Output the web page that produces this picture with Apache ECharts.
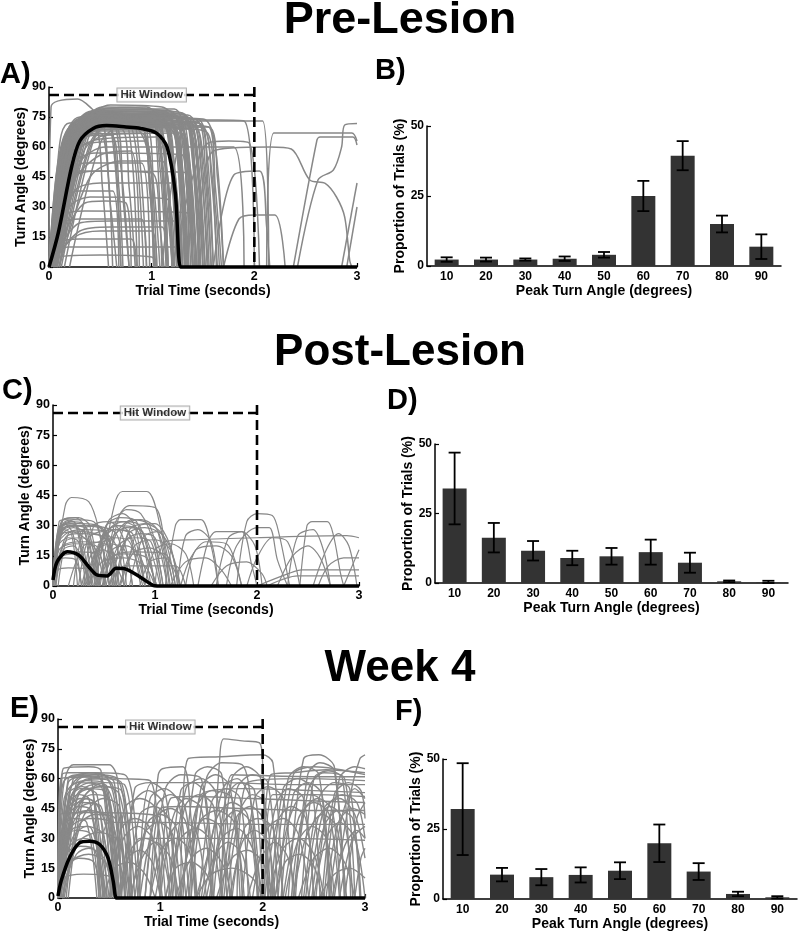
<!DOCTYPE html>
<html><head><meta charset="utf-8">
<script src="https://cdn.jsdelivr.net/npm/echarts@6/dist/echarts.min.js"></script>
<style>html,body{margin:0;padding:0;background:#fff}#c{width:800px;height:934px}</style>
</head><body><div id="c"></div>
<script>
// ---------------- DATA ----------------
const timeTicks = [0, 1, 2, 3];
const angleTicks = [0, 15, 30, 45, 60, 75, 90];
const peakAngles = ['10', '20', '30', '40', '50', '60', '70', '80', '90'];
const propTicks = [0, 25, 50];
const hitLevel = 86;      // degrees
const hitEnd = 2;         // seconds
const hitLabelTime = 1;   // seconds
const hitLabel = 'Hit Window';
const panelTitles = ['Pre-Lesion', 'Post-Lesion', 'Week 4'];
const panelLetters = ['A)', 'B)', 'C)', 'D)', 'E)', 'F)'];

// mean traces: flat lists t, angle, t, angle ...
const meanA = [0,0, 0.09,17, 0.22,50, 0.3,63, 0.43,69.3, 0.56,70.7, 0.75,70, 0.89,69.3, 1.05,66.8, 1.15,60, 1.23,37, 1.28,0, 1.32,0, 3,0];
const meanC = [0,3, 0.04,12, 0.14,17, 0.25,15.4, 0.35,9.6, 0.43,5.5, 0.53,5, 0.62,8.8, 0.72,8.3, 0.85,4.6, 0.98,0.3, 1.02,0, 3,0];
const meanE = [0,1, 0.03,8.4, 0.11,20, 0.21,27.7, 0.31,28.5, 0.41,26.8, 0.49,20, 0.54,8.4, 0.57,0, 0.6,0, 3,0];

// individual trials: flat lists t, angle, ...
const tracesA = [
 [0,0, 0.15,60, 0.3,74, 0.9,76, 1.05,72, 1.15,0],
 [0,0, 0.2,62, 0.35,72, 1.0,73, 1.1,65, 1.22,0],
 [0.02,0, 0.25,65, 0.45,77, 1.1,75, 1.2,60, 1.3,0],
 [0,0, 0.1,45, 0.25,70, 0.8,71, 0.95,60, 1.02,0],
 [0.05,0, 0.3,68, 0.5,78, 1.2,76, 1.3,50, 1.36,0],
 [0,0, 0.18,58, 0.4,70, 1.15,70, 1.28,40, 1.33,0],
 [0.03,0, 0.28,60, 0.5,74, 1.25,73, 1.35,55, 1.42,0],
 [0,0, 0.12,55, 0.3,68, 0.7,69, 0.78,40, 0.84,0],
 [0.08,0, 0.35,66, 0.55,79, 1.3,77, 1.42,50, 1.48,0],
 [0,0, 0.22,66, 0.4,75, 1.05,77, 1.18,62, 1.26,0],
 [0.04,0, 0.3,62, 0.48,72, 1.35,71, 1.45,45, 1.52,0],
 [0,0, 0.16,60, 0.33,73, 0.6,74, 0.7,50, 0.78,0],
 [0.1,0, 0.38,64, 0.6,76, 1.38,74, 1.5,48, 1.56,0],
 [0,0, 0.2,64, 0.42,78, 0.95,80, 1.1,70, 1.2,0],
 [0.02,0, 0.26,58, 0.46,68, 1.2,68, 1.3,35, 1.36,0],
 [0,0, 0.14,50, 0.3,66, 0.5,67, 0.6,30, 0.66,0],
 [0.06,0, 0.32,70, 0.52,80, 1.1,78, 1.25,66, 1.33,0],
 [0,0, 0.24,68, 0.44,75, 1.3,75, 1.4,58, 1.47,0],
 [0.12,0, 0.4,60, 0.62,72, 1.45,72, 1.55,40, 1.6,0],
 [0,0, 0.1,52, 0.22,70, 0.85,73, 0.98,55, 1.05,0],
 [0.03,0, 0.3,66, 0.5,76, 1.0,75, 1.05,60, 1.1,0],
 [0,0, 0.2,56, 0.38,69, 1.25,71, 1.37,52, 1.44,0],
 [0.05,0, 0.28,64, 0.45,74, 0.9,74, 0.98,45, 1.03,0],
 [0,0, 0.16,64, 0.36,76, 1.18,78, 1.3,62, 1.38,0],
 [0.07,0, 0.33,62, 0.55,70, 1.52,68, 1.62,30, 1.66,0],
 [0,0, 0.18,62, 0.38,72, 0.75,73, 0.85,58, 0.92,0],
 [0.02,0, 0.24,60, 0.42,71, 1.4,71, 1.5,55, 1.58,0],
 [0,0, 0.08,50, 0.2,72, 1.08,72, 1.2,45, 1.26,0],
 [0.15,0, 0.45,66, 0.65,75, 1.3,74, 1.42,60, 1.5,0],
 [0,0, 0.22,60, 0.4,68, 1.0,69, 1.1,52, 1.16,0],
 [0.04,0, 0.26,68, 0.5,79, 1.22,79, 1.32,65, 1.4,0],
 [0,0, 0.12,58, 0.28,74, 0.55,75, 0.64,60, 0.7,0],
 [0.08,0, 0.34,58, 0.56,66, 1.28,67, 1.38,40, 1.44,0],
 [0,0, 0.2,66, 0.4,77, 1.02,76, 1.15,68, 1.24,0],
 [0.03,0, 0.3,64, 0.46,72, 1.12,73, 1.22,50, 1.28,0],
 [0,0, 0.25,62, 0.44,74, 1.46,72, 1.58,50, 1.63,0],
 [0.1,0, 0.36,68, 0.58,77, 1.15,76, 1.28,58, 1.34,0],
 [0,0, 0.15,62, 0.32,71, 0.92,72, 1.02,40, 1.08,0],
 [0.02,0, 0.2,67, 0.38,76, 1.35,76, 1.46,60, 1.54,0],
 [0,0, 0.28,58, 0.5,64, 1.05,65, 1.15,30, 1.2,0],
 [0,0, 0.18,66, 0.34,74, 1.08,74, 1.2,58, 1.28,0],
 [0.01,0, 0.22,64, 0.4,73, 1.32,72, 1.42,50, 1.5,0],
 [0,0, 0.1,56, 0.24,71, 0.98,72, 1.1,52, 1.16,0],
 [0.06,0, 0.3,65, 0.5,75, 1.26,75, 1.36,58, 1.43,0],
 [0,0, 0.14,60, 0.3,72, 1.16,74, 1.26,56, 1.32,0],
 [0.02,0, 0.26,66, 0.45,77, 1.42,74, 1.52,52, 1.58,0],
 [0,0, 0.2,58, 0.36,70, 0.65,70, 0.72,35, 0.78,0],
 [0.04,0, 0.28,62, 0.48,73, 1.18,72, 1.28,48, 1.34,0],
 [0,0, 0.16,62, 0.34,75, 1.22,76, 1.34,60, 1.4,0],
 [0.03,0, 0.24,64, 0.42,74, 0.98,74, 1.08,50, 1.14,0],
 [0,0, 0.12,52, 0.26,68, 0.45,69, 0.52,40, 0.58,0],
 [0.05,0, 0.32,66, 0.52,76, 1.34,75, 1.44,55, 1.5,0],
 [0,0, 0.22,68, 0.42,78, 1.12,78, 1.24,64, 1.32,0],
 [0.02,0, 0.28,60, 0.48,70, 1.48,70, 1.58,45, 1.64,0],
 [0,0, 0.18,64, 0.36,73, 0.86,74, 0.96,56, 1.02,0],
 [0.08,0, 0.36,64, 0.56,74, 1.38,72, 1.48,50, 1.55,0],
 [0,0, 0.15,58, 0.32,70, 1.05,70, 1.15,48, 1.21,0],
 [0.01,0, 0.2,62, 0.4,76, 1.28,77, 1.38,62, 1.46,0],
 [0,0, 0.26,64, 0.46,72, 1.2,71, 1.3,45, 1.35,0],
 [0.04,0, 0.22,66, 0.4,75, 0.78,76, 0.88,55, 0.95,0],
 [0,0, 0.12,60, 0.28,73, 1.3,73, 1.4,54, 1.46,0],
 [0.06,0, 0.3,60, 0.5,71, 1.1,71, 1.2,42, 1.25,0],
 [0,0, 0.2,60, 0.38,74, 1.44,74, 1.54,56, 1.6,0],
 [0.03,0, 0.25,68, 0.44,78, 1.02,77, 1.12,62, 1.2,0],
 [0,0, 0.17,56, 0.35,66, 0.9,67, 0.98,38, 1.04,0],
 [0.02,0, 0.3,64, 0.5,72, 1.24,70, 1.34,46, 1.4,0],
 [0,0, 0.14,62, 0.3,75, 1.14,75, 1.24,60, 1.3,0],
 [0.05,0, 0.26,58, 0.46,69, 1.36,69, 1.46,44, 1.52,0],
 [0,0, 0.22,66, 0.4,76, 0.7,77, 0.8,60, 0.86,0],
 [0.07,0, 0.34,68, 0.54,78, 1.32,76, 1.44,60, 1.52,0],
 [0,0, 0.1,50, 0.25,64, 0.6,66, 0.68,40, 0.72,0],
 [0.02,0, 0.18,60, 0.36,71, 1.0,72, 1.1,56, 1.16,0],
 [0,0, 0.2,62, 0.42,72, 1.56,70, 1.64,45, 1.7,0],
 [0.1,0, 0.4,62, 0.6,71, 1.24,70, 1.34,40, 1.4,0],
 [0,0, 0.28,66, 0.48,76, 1.2,76, 1.32,64, 1.4,0],
 [0.03,0, 0.16,62, 0.3,72, 0.5,73, 0.58,45, 0.62,0],
 [0,0, 0.02,80, 0.28,84, 0.42,79, 0.6,70, 0.7,0],
 [0.05,0, 0.35,72, 0.6,81, 1.1,80, 1.3,74, 1.9,73, 2.0,0],
 [0,0, 0.3,66, 0.5,75, 1.5,74, 1.62,60, 1.7,0],
 [0.2,0, 0.5,62, 0.7,70, 1.55,70, 1.62,40, 1.68,0],
 [0,0, 0.12,40, 0.3,48, 1.0,47, 1.08,20, 1.12,0],
 [0,0, 0.2,30, 0.4,35, 1.15,34, 1.22,0],
 [0.02,0, 0.15,22, 0.3,24, 0.9,24, 0.95,0],
 [0,0, 0.1,12, 0.3,14, 0.8,14, 0.85,0],
 [0,0, 0.2,50, 0.45,57, 1.3,56, 1.36,0],
 [0,0, 0.25,38, 0.5,42, 1.2,42, 1.28,0],
 [0.05,0, 0.3,52, 0.55,60, 1.4,60, 1.8,60, 1.9,0],
 [0,0, 0.15,26, 0.35,28, 1.35,27, 1.4,0],
 [0,0, 0.3,18, 0.6,20, 1.1,20, 1.15,0],
 [0.1,0, 0.4,45, 0.7,53, 1.1,53, 1.2,0],
 [0,0, 0.05,8, 0.2,10, 1.25,10, 1.3,0],
 [0,0, 0.35,32, 0.55,33, 0.75,32, 0.8,0],
 [0,0, 0.15,44, 0.35,52, 0.9,52, 0.98,0],
 [0,0, 0.25,15, 0.5,18, 1.0,18, 1.05,0],
 [0,0, 0.1,35, 0.3,38, 0.62,38, 0.68,0],
 [0.02,0, 0.2,55, 0.4,62, 0.95,63, 1.02,0],
 [0,0, 0.3,22, 0.6,23, 1.25,23, 1.3,0],
 [0.05,0, 0.25,45, 0.5,48, 1.35,47, 1.4,0],
 [0,0, 0.08,5, 0.5,6, 1.0,5, 1.05,0],
 [0,0, 0.2,40, 0.5,56, 0.8,58, 0.88,0],
 [1.2,0, 1.4,45, 1.55,62, 1.75,63, 1.95,62, 2.05,0],
 [1.1,0, 1.3,70, 1.5,73, 2.08,73, 2.14,0],
 [1.7,0, 1.85,24, 2.0,26, 2.2,26, 2.3,0],
 [2.12,0, 2.19,67, 2.95,67, 3.0,63],
 [1.45,0, 1.6,58, 2.15,60, 2.36,59, 2.54,43.5, 2.69,41.8, 2.8,35, 2.88,25, 2.93,3, 2.95,0],
 [2.38,0, 2.61,63.5, 2.64,65, 2.96,65, 3.0,61],
 [2.42,0, 2.62,43.5, 2.77,48.5, 2.85,60, 2.88,71, 3.0,71.7],
 [2.85,0, 3.0,42],
 [2.9,0, 3.0,30],
 [1.6,0, 1.8,46, 2.05,48, 2.12,20, 2.15,0]
];

const tracesC = [
 [0,0, 0.06,28, 0.15,32, 0.3,31, 0.4,10, 0.45,0],
 [0,0, 0.08,25, 0.2,29, 0.32,26, 0.42,0],
 [0,0, 0.05,20, 0.15,24, 0.25,22, 0.35,0],
 [0,0, 0.1,31, 0.2,33, 0.4,32, 0.5,15, 0.56,0],
 [0,0, 0.12,40, 0.18,44, 0.35,42, 0.45,28, 0.55,0],
 [0.02,0, 0.1,18, 0.2,20, 0.3,12, 0.36,0],
 [0,0, 0.07,30, 0.25,31, 0.48,29, 0.6,0],
 [0,0, 0.04,12, 0.12,14, 0.22,13, 0.28,0],
 [0,0, 0.09,26, 0.3,27, 0.55,22, 0.65,0],
 [0,0, 0.06,22, 0.18,27, 0.38,20, 0.46,0],
 [0,0, 0.08,32, 0.22,34, 0.3,30, 0.38,0],
 [0.03,0, 0.1,16, 0.25,17, 0.45,16, 0.5,0],
 [0,0, 0.05,8, 0.15,9, 0.4,8, 0.45,0],
 [0,0, 0.1,28, 0.35,30, 0.62,26, 0.72,0],
 [0,0, 0.07,24, 0.14,30, 0.2,25, 0.28,0],
 [0,0, 0.12,22, 0.28,24, 0.42,18, 0.5,0],
 [0,0, 0.1,30, 0.2,32, 0.28,20, 0.34,0],
 [0.05,0, 0.15,26, 0.3,28, 0.52,27, 0.6,0],
 [0,0, 0.05,26, 0.16,30, 0.34,28, 0.44,0],
 [0,0, 0.08,29, 0.18,31, 0.26,28, 0.36,0],
 [0.01,0, 0.06,18, 0.2,21, 0.42,20, 0.52,0],
 [0,0, 0.1,33, 0.25,34, 0.36,30, 0.46,0],
 [0,0, 0.07,14, 0.2,16, 0.3,10, 0.36,0],
 [0,0, 0.09,28, 0.22,30, 0.5,28, 0.62,0],
 [0,0, 0.06,32, 0.12,33, 0.22,31, 0.32,0],
 [0.02,0, 0.12,24, 0.26,26, 0.5,24, 0.58,0],
 [0,0, 0.1,20, 0.3,22, 0.55,20, 0.64,0],
 [0,0, 0.04,22, 0.1,28, 0.18,26, 0.24,0],
 [0.35,0, 0.5,25, 0.62,30, 0.8,29, 0.95,10, 1.02,0],
 [0.4,0, 0.55,28, 0.7,32, 0.85,30, 1.0,0],
 [0.3,0, 0.45,20, 0.6,24, 0.75,22, 0.88,0],
 [0.45,0, 0.6,40, 0.68,47, 0.92,47, 1.05,30, 1.15,0],
 [0.5,0, 0.65,35, 0.75,40, 1.0,39, 1.1,20, 1.18,0],
 [0.38,0, 0.52,30, 0.68,32, 0.9,25, 1.05,0],
 [0.55,0, 0.7,22, 0.85,26, 1.0,24, 1.12,0],
 [0.42,0, 0.58,18, 0.72,20, 0.85,15, 0.95,0],
 [0.6,0, 0.75,28, 0.9,31, 1.08,25, 1.2,0],
 [0.35,0, 0.48,12, 0.7,14, 0.9,10, 1.0,0],
 [0.5,0, 0.62,26, 0.78,33, 0.95,30, 1.08,0],
 [0.65,0, 0.8,20, 1.0,23, 1.15,18, 1.25,0],
 [0.3,0, 0.4,30, 0.55,32, 0.68,25, 0.78,0],
 [0.48,0, 0.6,15, 0.8,17, 1.1,16, 1.2,0],
 [0.7,0, 0.85,30, 1.0,31, 1.15,20, 1.22,0],
 [0.55,0, 0.7,10, 1.2,10, 1.3,0],
 [0.25,0, 0.35,24, 0.48,27, 0.62,20, 0.7,0],
 [0.15,0, 0.3,20, 0.45,22, 0.6,28, 0.75,26, 0.9,0],
 [0.32,0, 0.46,22, 0.6,28, 0.78,26, 0.9,0],
 [0.4,0, 0.52,30, 0.66,34, 0.82,32, 0.96,0],
 [0.46,0, 0.58,24, 0.72,29, 0.88,27, 1.0,0],
 [0.52,0, 0.64,20, 0.8,24, 0.96,22, 1.06,0],
 [0.36,0, 0.5,26, 0.64,30, 0.74,27, 0.86,0],
 [0.58,0, 0.7,30, 0.86,33, 1.02,28, 1.12,0],
 [0.44,0, 0.56,14, 0.7,16, 0.92,14, 1.0,0],
 [0.62,0, 0.74,26, 0.9,29, 1.04,26, 1.14,0],
 [0.34,0, 0.44,18, 0.56,21, 0.7,18, 0.78,0],
 [0.5,0, 0.6,30, 0.72,38, 0.86,36, 1.0,20, 1.08,0],
 [0.66,0, 0.78,16, 0.94,19, 1.1,14, 1.18,0],
 [0.42,0, 0.54,32, 0.68,36, 0.8,30, 0.9,0],
 [0.2,0, 0.3,28, 0.42,30, 0.55,22, 0.62,0],
 [0.28,0, 0.38,16, 0.5,18, 0.62,10, 0.7,0],
 [0.75,0, 0.88,24, 1.02,27, 1.14,20, 1.24,0],
 [1.1,0, 1.2,30, 1.25,33, 1.45,33, 1.55,20, 1.62,0],
 [1.42,0, 1.52,22, 1.6,27, 1.85,27, 1.95,10, 2.0,0],
 [1.8,0, 1.9,32, 2.0,36, 2.15,35, 2.22,25, 2.32,0],
 [1.0,0, 1.1,22, 1.4,23, 2.0,24, 2.88,25, 3.0,24],
 [1.3,0, 1.4,18, 1.6,20, 1.75,15, 1.85,0],
 [1.7,0, 1.8,20, 2.0,29, 2.12,29, 2.2,13, 2.3,0],
 [2.42,0, 2.49,30, 2.54,32, 2.69,32, 2.75,25, 2.82,6, 2.85,0],
 [2.0,0, 2.3,6, 2.44,8, 3.0,8],
 [2.1,0, 2.4,5, 3.0,5],
 [2.55,0, 2.68,18, 2.8,26, 2.9,20, 2.98,0],
 [2.85,0, 2.95,12, 3.0,18],
 [1.15,0, 1.3,12, 1.5,14, 1.65,8, 1.75,0],
 [0.9,0, 1.0,18, 1.15,21, 1.3,16, 1.38,0],
 [2.2,0, 2.35,15, 2.5,20, 2.62,14, 2.72,0],
 [1.55,0, 1.7,10, 1.9,12, 2.05,6, 2.1,0],
 [1.25,0, 1.35,14, 1.5,22, 1.7,21, 1.85,0],
 [0.85,0, 0.95,12, 1.1,14, 1.25,0],
 [1.22,0, 1.3,25, 1.42,28, 1.55,22, 1.62,0],
 [1.6,0, 1.72,24, 1.85,27, 1.98,20, 2.05,0],
 [1.9,0, 2.0,14, 2.15,24, 2.3,22, 2.42,0],
 [2.6,0, 2.7,10, 2.85,14, 3.0,14],
 [2.3,0, 2.4,25, 2.55,28, 2.65,18, 2.72,0]
];

const tracesE = [
 [0,0, 0.02,45, 0.08,60, 0.4,62, 0.55,58, 0.62,0],
 [0,0, 0.05,55, 0.15,67, 0.5,67, 0.58,60, 0.65,0],
 [0,0, 0.1,40, 0.25,55, 0.45,54, 0.55,20, 0.6,0],
 [0,0, 0.08,30, 0.2,45, 0.35,48, 0.5,30, 0.58,0],
 [0,0, 0.12,50, 0.3,60, 0.5,59, 0.6,40, 0.68,0],
 [0,0, 0.05,20, 0.15,35, 0.3,36, 0.42,15, 0.48,0],
 [0.02,0, 0.12,55, 0.3,63, 0.45,62, 0.55,50, 0.62,0],
 [0,0, 0.15,42, 0.28,50, 0.4,45, 0.52,0],
 [0,0, 0.1,25, 0.25,30, 0.4,26, 0.5,0],
 [0.05,0, 0.18,58, 0.35,62, 0.58,60, 0.68,30, 0.72,0],
 [0,0, 0.04,62, 0.1,63, 0.35,63, 0.45,55, 0.55,0],
 [0,0, 0.2,52, 0.35,57, 0.6,52, 0.72,0],
 [0,0, 0.08,15, 0.2,20, 0.35,18, 0.42,0],
 [0.03,0, 0.15,38, 0.3,44, 0.5,40, 0.6,0],
 [0,0, 0.1,58, 0.25,61, 0.42,60, 0.5,35, 0.56,0],
 [0,0, 0.06,10, 0.25,12, 0.55,10, 0.6,0],
 [0.08,0, 0.22,48, 0.4,56, 0.62,54, 0.75,0],
 [0,0, 0.12,35, 0.3,40, 0.52,38, 0.6,20, 0.66,0],
 [0,0, 0.15,60, 0.35,63, 0.65,62, 0.75,40, 0.8,0],
 [0,0, 0.08,45, 0.2,52, 0.3,50, 0.4,20, 0.45,0],
 [0.04,0, 0.2,28, 0.4,33, 0.6,28, 0.7,0],
 [0,0, 0.02,42, 0.3,43, 0.9,42, 1.0,40, 1.1,0],
 [0,0, 0.03,60, 0.4,61, 0.6,60, 0.9,59, 1.0,0],
 [0,0, 0.1,20, 0.2,52, 0.45,56, 0.55,45, 0.62,0],
 [0.1,0, 0.25,50, 0.45,58, 0.65,57, 0.78,0],
 [0,0, 0.05,65, 0.3,66, 0.42,64, 0.52,0],
 [0,0, 0.18,22, 0.3,25, 0.45,20, 0.55,0],
 [0.02,0, 0.1,48, 0.22,55, 0.38,52, 0.48,0],
 [0,0, 0.06,38, 0.2,46, 0.32,44, 0.46,0],
 [0,0, 0.14,30, 0.28,36, 0.44,32, 0.52,0],
 [0,0, 0.06,50, 0.18,58, 0.4,57, 0.5,40, 0.56,0],
 [0,0, 0.1,45, 0.22,50, 0.36,48, 0.46,0],
 [0,0, 0.04,35, 0.15,40, 0.28,38, 0.38,0],
 [0.02,0, 0.14,52, 0.32,58, 0.48,56, 0.58,0],
 [0,0, 0.08,22, 0.22,26, 0.36,24, 0.44,0],
 [0,0, 0.12,55, 0.26,59, 0.44,58, 0.54,30, 0.6,0],
 [0,0, 0.05,30, 0.18,34, 0.32,32, 0.4,0],
 [0.03,0, 0.16,45, 0.34,52, 0.5,50, 0.6,0],
 [0,0, 0.1,60, 0.2,62, 0.32,61, 0.4,0],
 [0,0, 0.07,40, 0.2,48, 0.42,46, 0.52,0],
 [0.05,0, 0.2,36, 0.36,42, 0.56,40, 0.66,0],
 [0,0, 0.12,18, 0.3,22, 0.46,18, 0.54,0],
 [0,0, 0.09,52, 0.24,56, 0.34,53, 0.44,0],
 [0.02,0, 0.18,56, 0.4,60, 0.62,58, 0.72,0],
 [0,0, 0.06,28, 0.16,42, 0.3,44, 0.42,0],
 [0.06,0, 0.24,40, 0.44,50, 0.6,46, 0.7,0],
 [0.5,0, 0.62,35, 0.75,40, 0.9,35, 1.0,0],
 [0.6,0, 0.72,25, 0.85,30, 1.0,25, 1.1,0],
 [0.55,0, 0.65,45, 0.8,50, 0.95,45, 1.05,0],
 [0.7,0, 0.82,20, 0.95,28, 1.1,20, 1.18,0],
 [0.45,0, 0.55,15, 0.7,18, 0.85,12, 0.95,0],
 [0.8,0, 0.95,40, 1.1,45, 1.25,38, 1.35,0],
 [0.65,0, 0.75,55, 0.9,58, 1.05,52, 1.15,0],
 [0.85,0, 0.98,62, 1.02,65, 1.22,66, 1.3,40, 1.36,0],
 [0.52,0, 0.64,30, 0.78,36, 0.92,30, 1.02,0],
 [0.62,0, 0.74,48, 0.88,54, 1.02,48, 1.12,0],
 [0.72,0, 0.84,32, 0.98,38, 1.12,32, 1.2,0],
 [0.58,0, 0.68,20, 0.8,24, 0.92,18, 1.0,0],
 [0.78,0, 0.9,50, 1.04,55, 1.18,48, 1.28,0],
 [0.68,0, 0.8,42, 0.94,46, 1.08,40, 1.16,0],
 [0.9,0, 1.02,25, 1.15,30, 1.28,24, 1.36,0],
 [0.85,0, 0.96,46, 1.1,52, 1.24,46, 1.34,0],
 [1.0,0, 1.12,40, 1.25,50, 1.4,45, 1.5,0],
 [1.1,0, 1.25,55, 1.4,60, 1.55,52, 1.65,0],
 [1.2,0, 1.35,45, 1.5,54, 1.7,50, 1.8,0],
 [1.05,0, 1.2,30, 1.35,35, 1.5,28, 1.6,0],
 [1.3,0, 1.45,60, 1.6,68, 1.8,67, 1.9,40, 1.95,0],
 [1.5,0, 1.58,70, 1.62,80, 1.8,79, 1.97,78, 2.0,67, 2.05,0],
 [1.4,0, 1.55,40, 1.7,48, 1.85,42, 1.95,0],
 [1.6,0, 1.75,55, 1.9,62, 2.05,58, 2.15,0],
 [1.15,0, 1.3,20, 1.45,25, 1.6,18, 1.7,0],
 [1.7,0, 1.82,35, 1.95,40, 2.1,35, 2.2,0],
 [1.2,0, 1.27,70, 1.58,71, 2.0,72, 2.1,68, 2.2,0],
 [1.45,0, 1.6,30, 1.75,35, 1.9,25, 2.0,0],
 [1.8,0, 1.92,50, 2.05,56, 2.2,50, 2.3,0],
 [0.9,0, 1.05,55, 1.2,62, 1.4,60, 1.5,0],
 [1.35,0, 1.5,12, 1.7,15, 1.9,10, 2.0,0],
 [0.9,0, 1.0,45, 1.2,46, 1.8,45, 2.5,44, 3.0,44],
 [1.3,0, 1.4,52, 1.8,55, 2.5,54, 3.0,53],
 [1.55,0, 1.7,20, 1.85,24, 2.0,18, 2.1,0],
 [0.95,0, 1.08,30, 1.2,38, 1.35,34, 1.45,0],
 [1.0,0, 1.1,50, 1.3,51, 1.9,50, 2.4,49, 3.0,48],
 [0.8,0, 0.92,58, 1.6,58, 2.3,57, 3.0,57],
 [1.25,0, 1.38,38, 1.55,44, 1.72,38, 1.82,0],
 [1.65,0, 1.78,44, 1.9,52, 2.02,48, 2.1,0],
 [0.75,0, 0.88,38, 1.0,42, 1.15,36, 1.25,0],
 [1.35,0, 1.48,25, 1.62,56, 1.75,60, 1.88,50, 1.98,0],
 [1.05,0, 1.15,15, 1.3,18, 1.45,12, 1.52,0],
 [1.12,0, 1.24,46, 1.38,52, 1.52,46, 1.6,0],
 [1.18,0, 1.3,28, 1.44,40, 1.58,36, 1.68,0],
 [1.28,0, 1.4,56, 1.54,62, 1.68,56, 1.78,0],
 [1.38,0, 1.5,48, 1.64,55, 1.78,50, 1.86,0],
 [1.48,0, 1.6,36, 1.74,44, 1.88,38, 1.96,0],
 [1.58,0, 1.7,60, 1.84,66, 1.98,60, 2.06,0],
 [1.68,0, 1.8,28, 1.92,34, 2.05,28, 2.12,0],
 [1.22,0, 1.34,62, 1.46,66, 1.6,62, 1.7,0],
 [1.42,0, 1.52,20, 1.66,28, 1.8,22, 1.88,0],
 [1.52,0, 1.64,50, 1.78,58, 1.92,54, 2.0,0],
 [1.08,0, 1.2,54, 1.32,58, 1.44,52, 1.52,0],
 [1.62,0, 1.74,40, 1.88,46, 2.0,40, 2.08,0],
 [2.0,0, 2.12,45, 2.25,55, 2.4,50, 2.5,0],
 [2.1,0, 2.25,60, 2.4,66, 2.55,62, 2.65,0],
 [2.2,0, 2.35,40, 2.5,48, 2.65,42, 2.75,0],
 [2.3,0, 2.45,55, 2.6,63, 2.8,60, 2.9,0],
 [2.4,0, 2.55,50, 2.7,58, 2.85,55, 2.95,0],
 [2.5,0, 2.62,30, 2.75,38, 2.9,30, 3.0,0],
 [2.6,0, 2.75,60, 2.9,66, 3.0,65],
 [2.7,0, 2.85,50, 2.95,70, 3.0,72],
 [2.05,0, 2.2,25, 2.35,30, 2.5,22, 2.6,0],
 [2.35,0, 2.5,20, 2.65,25, 2.8,18, 2.9,0],
 [2.15,0, 2.3,62, 2.5,66, 3.0,62],
 [1.9,0, 2.05,35, 2.2,40, 2.35,32, 2.45,0],
 [2.8,0, 2.92,40, 3.0,48],
 [2.45,0, 2.6,45, 2.75,50, 2.9,42, 3.0,20],
 [1.75,0, 1.85,58, 2.4,60, 3.0,59],
 [2.55,0, 2.7,12, 2.85,15, 3.0,10],
 [2.25,0, 2.4,70, 2.55,72, 2.7,66, 2.8,0],
 [2.0,0, 2.08,62, 2.3,63, 2.62,64.5, 3.0,63],
 [2.12,0, 2.25,38, 2.4,52, 2.55,50, 2.68,0],
 [2.65,0, 2.78,42, 2.9,55, 3.0,50],
 [2.3,0, 2.42,30, 2.58,42, 2.72,36, 2.82,0],
 [1.85,0, 1.98,20, 2.12,28, 2.25,20, 2.32,0],
 [2.75,0, 2.88,30, 3.0,36],
 [2.02,0, 2.1,52, 2.5,52, 3.0,51],
 [2.02,0, 2.14,38, 2.28,46, 2.42,40, 2.5,0],
 [2.18,0, 2.3,52, 2.44,58, 2.58,52, 2.66,0],
 [2.28,0, 2.4,44, 2.54,50, 2.68,44, 2.76,0],
 [2.38,0, 2.5,60, 2.64,64, 2.78,60, 2.86,0],
 [2.48,0, 2.6,36, 2.74,44, 2.88,40, 2.96,0],
 [2.58,0, 2.7,52, 2.84,58, 2.96,54, 3.0,40],
 [2.68,0, 2.8,26, 2.92,34, 3.0,30],
 [2.08,0, 2.2,55, 2.34,60, 2.48,55, 2.56,0],
 [2.22,0, 2.34,28, 2.48,36, 2.62,30, 2.7,0],
 [2.52,0, 2.64,46, 2.78,52, 2.92,48, 3.0,30],
 [2.42,0, 2.54,40, 2.66,46, 2.8,38, 2.88,0],
 [2.12,0, 2.22,18, 2.36,22, 2.5,16, 2.58,0],
 [2.62,0, 2.74,38, 2.88,45, 3.0,42],
 [2.32,0, 2.44,62, 2.56,68, 2.7,64, 2.8,0],
 [0.4,0, 0.5,38, 1.0,38, 2.0,37, 3.0,37],
 [1.6,0, 1.7,62, 2.5,61, 3.0,61],
 [0.7,0, 0.8,30, 2.2,30, 3.0,29],
 [2.9,0, 2.96,20, 3.0,25]
];

// peak turn angle histograms (percent of trials) and error bars
const preMean  = [2.3, 2.3, 2.3, 2.6, 4.0, 25.0, 39.4, 15.0, 6.9];
const preErr   = [0.8, 0.7, 0.4, 0.8, 1.0, 5.4, 5.2, 3.0, 4.4];
const postMean = [34.0, 16.3, 11.6, 9.0, 9.6, 11.1, 7.3, 0.6, 0.2];
const postErr  = [12.9, 5.3, 3.5, 2.6, 3.0, 4.5, 3.6, 0.3, 0.6];
const wk4Mean  = [32.1, 8.7, 7.8, 8.6, 10.1, 19.9, 9.8, 1.8, 0.6];
const wk4Err   = [16.4, 2.4, 2.9, 2.7, 3.0, 6.7, 3.0, 0.8, 0.4];

// ---------------- CHART ----------------
const FONT = '"Liberation Sans", Arial, Helvetica, sans-serif';
const pairs = flat => { const out = []; for (let i = 0; i < flat.length; i += 2) out.push([flat[i], flat[i + 1]]); return out; };

const grids = [
  {left: 49, top: 87, width: 308, height: 180},   // A
  {left: 427, top: 126, width: 354, height: 140}, // B
  {left: 53, top: 405, width: 306, height: 181},  // C
  {left: 435, top: 444, width: 353, height: 139}, // D
  {left: 58, top: 719, width: 307, height: 179},  // E
  {left: 443, top: 759, width: 354, height: 140}  // F
].map(g => Object.assign({containLabel: false, outerBoundsMode: 'none'}, g));

const axisLineStyle = {show: true, lineStyle: {color: '#000', width: 1.5}};
const tickStyle = {show: true, inside: true, length: 4, lineStyle: {color: '#000', width: 1.2}};
const lblStyle = (size) => ({color: '#000', fontFamily: FONT, fontWeight: 'bold', fontSize: size});
const nameStyle = {color: '#000', fontFamily: FONT, fontWeight: 'bold', fontSize: 14};

const xAxes = [], yAxes = [];
[0, 2, 4].forEach(g => {
  xAxes[g] = {gridIndex: g, type: 'value', min: timeTicks[0], max: timeTicks[timeTicks.length - 1], interval: 1,
    axisLine: axisLineStyle, axisTick: tickStyle, splitLine: {show: false},
    axisLabel: Object.assign({margin: 3}, lblStyle(12.5)),
    name: 'Trial Time (seconds)', nameLocation: 'middle', nameGap: 10, nameTextStyle: nameStyle};
  yAxes[g] = {gridIndex: g, type: 'value', min: angleTicks[0], max: angleTicks[angleTicks.length - 1], interval: 15,
    axisLine: axisLineStyle, axisTick: tickStyle, splitLine: {show: false},
    axisLabel: Object.assign({margin: 3}, lblStyle(12.5)),
    name: 'Turn Angle (degrees)', nameLocation: 'middle', nameGap: 17, nameTextStyle: nameStyle};
});
[1, 3, 5].forEach((g, k) => {
  xAxes[g] = {gridIndex: g, type: 'category', data: peakAngles, boundaryGap: true,
    axisLine: axisLineStyle, axisTick: {show: false}, splitLine: {show: false},
    axisLabel: Object.assign({margin: 5}, lblStyle(12)),
    name: 'Peak Turn Angle (degrees)', nameLocation: 'middle', nameGap: k === 2 ? 15 : 12, nameTextStyle: nameStyle};
  yAxes[g] = {gridIndex: g, type: 'value', min: propTicks[0], max: propTicks[propTicks.length - 1], interval: 25,
    axisLine: axisLineStyle, axisTick: tickStyle, splitLine: {show: false},
    axisLabel: Object.assign({margin: 3}, lblStyle(12)),
    name: 'Proportion of Trials (%)', nameLocation: 'middle', nameGap: 17, nameTextStyle: nameStyle};
});

const series = [];
const linePanels = [[0, tracesA, meanA, 1.5], [2, tracesC, meanC, 1.2], [4, tracesE, meanE, 1.4]];
linePanels.forEach(([g, traces, mean, lw]) => {
  traces.forEach(tr => series.push({type: 'line', xAxisIndex: g, yAxisIndex: g, data: pairs(tr),
    showSymbol: false, smooth: 0.3, silent: true, z: 2,
    lineStyle: {color: '#888888', width: lw}}));
  series.push({type: 'line', xAxisIndex: g, yAxisIndex: g, data: pairs(mean), showSymbol: false,
    smooth: 0.3, silent: true, clip: false, z: 5, lineStyle: {color: '#000', width: 3.5}});
  series.push({type: 'line', xAxisIndex: g, yAxisIndex: g, data: [[timeTicks[0], hitLevel], [hitEnd, hitLevel]],
    showSymbol: false, silent: true, z: 6, lineStyle: {color: '#000', width: 2.6, type: [10, 5]}});
  series.push({type: 'line', xAxisIndex: g, yAxisIndex: g,
    data: [[hitEnd, angleTicks[angleTicks.length - 1]], [hitEnd, angleTicks[0]]],
    showSymbol: false, silent: true, z: 6, lineStyle: {color: '#000', width: 2.6, type: [10, 5]}});
  series.push({type: 'scatter', xAxisIndex: g, yAxisIndex: g, data: [[hitLabelTime, hitLevel]],
    symbol: 'rect', symbolSize: 2, itemStyle: {color: 'rgba(255,255,255,0)'}, silent: true, z: 8,
    label: {show: true, position: 'inside', formatter: hitLabel, color: '#000', fontFamily: FONT,
      fontWeight: 'bold', fontSize: 11.5, backgroundColor: '#fff', borderColor: '#9a9a9a', borderWidth: 1,
      padding: [1, 3, 0, 3]},
    labelLayout: {hideOverlap: false}});
});

const barPanels = [[1, preMean, preErr], [3, postMean, postErr], [5, wk4Mean, wk4Err]];
barPanels.forEach(([g, mean, err]) => {
  series.push({type: 'bar', xAxisIndex: g, yAxisIndex: g, data: mean, barWidth: 24, silent: true,
    itemStyle: {color: '#333333'}, z: 2});
  series.push({type: 'custom', xAxisIndex: g, yAxisIndex: g, silent: true, z: 4,
    data: mean.map((m, i) => [i, Math.max(0, m - err[i]), m + err[i]]),
    encode: {x: 0, y: [1, 2]},
    renderItem: (params, api) => {
      const i = api.value(0);
      const lo = api.coord([i, api.value(1)]);
      const hi = api.coord([i, api.value(2)]);
      const h = 6, st = {stroke: '#000', lineWidth: 1.8};
      return {type: 'group', children: [
        {type: 'line', shape: {x1: lo[0], y1: lo[1], x2: hi[0], y2: hi[1]}, style: st},
        {type: 'line', shape: {x1: lo[0] - h, y1: lo[1], x2: lo[0] + h, y2: lo[1]}, style: st},
        {type: 'line', shape: {x1: hi[0] - h, y1: hi[1], x2: hi[0] + h, y2: hi[1]}, style: st}
      ]};
    }});
});

const txt = (text, x, y, size, align) => ({type: 'text', x: x, y: y, silent: true,
  style: {text: text, fill: '#000', font: 'bold ' + size + 'px ' + FONT,
    align: align, verticalAlign: 'middle', textAlign: align, textVerticalAlign: 'middle'}});

const graphic = [
  txt(panelTitles[0], 400, 21, 45, 'center'),
  txt(panelTitles[1], 400, 353, 44, 'center'),
  txt(panelTitles[2], 400, 669, 44, 'center'),
  txt(panelLetters[0], 0, 75, 29, 'left'),
  txt(panelLetters[1], 375, 71, 29, 'left'),
  txt(panelLetters[2], 2, 391, 29, 'left'),
  txt(panelLetters[3], 387, 401, 29, 'left'),
  txt(panelLetters[4], 10, 709, 29, 'left'),
  txt(panelLetters[5], 395, 712, 29, 'left')
];

const chart = echarts.init(document.getElementById('c'), null, {renderer: 'canvas'});
chart.setOption({
  animation: false,
  backgroundColor: '#fff',
  textStyle: {fontFamily: FONT},
  grid: grids,
  xAxis: xAxes,
  yAxis: yAxes,
  series: series,
  graphic: graphic
});
</script>
</body></html>
